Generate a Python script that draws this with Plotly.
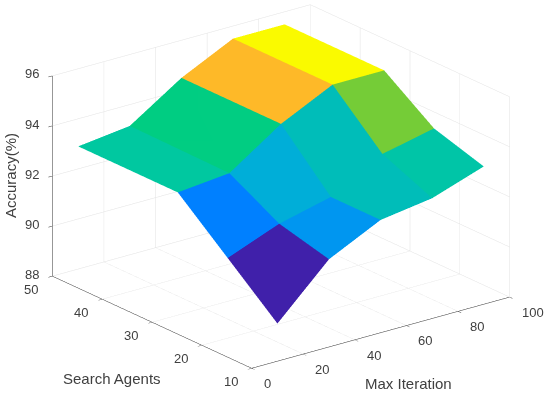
import plotly.graph_objects as go

max_iteration = [10, 30, 50, 70, 90]
search_agents = [10, 20, 30, 50]
accuracy = [
    [89.5, 91.5, 92.5, 92.8, 93.5],
    [91.2, 92.0, 92.5, 93.65, 94.1],
    [92.9, 93.1, 94.5, 95.5, 95.5],
    [92.9, 93.15, 94.5, 95.5, 95.5],
]
x_ticks = [0, 20, 40, 60, 80, 100]
y_ticks = [10, 20, 30, 40, 50]
z_ticks = [88, 90, 92, 94, 96]
color_stops = [
    (89.5, "#4020aa"), (91.2, "#0080ff"), (91.5, "#0096f0"), (92.0, "#00aed8"),
    (92.5, "#00bdb8"), (92.9, "#00c8a0"), (93.1, "#00cd82"), (93.65, "#73cd37"),
    (94.5, "#ffb928"), (95.5, "#fafa00"),
]
lo, hi = color_stops[0][0], color_stops[-1][0]
colorscale = [[(v - lo) / (hi - lo), c] for v, c in color_stops]

nx, ny = len(max_iteration), len(search_agents)
vx, vy, vz = [], [], []
for r in range(ny):
    for c in range(nx):
        vx.append(max_iteration[c]); vy.append(search_agents[r]); vz.append(accuracy[r][c])
ti, tj, tk, cell = [], [], [], []
for r in range(ny - 1):
    for c in range(nx - 1):
        a = r * nx + c; b = a + 1; d = a + nx; e = d + 1
        ti += [a, a]; tj += [b, e]; tk += [e, d]
        cell += [accuracy[r][c]] * 2

mesh = go.Mesh3d(x=vx, y=vy, z=vz, i=ti, j=tj, k=tk, intensity=cell, intensitymode="cell",
                 colorscale=colorscale, cmin=lo, cmax=hi, showscale=False, flatshading=True,
                 lighting=dict(ambient=1, diffuse=0, specular=0, roughness=1, fresnel=0),
                 hoverinfo="skip")
fig = go.Figure(mesh)
ink = "#404040"
tick_font = dict(family="Liberation Sans", size=13, color=ink)
title_font = dict(family="Liberation Sans", size=15, color=ink)


def axis(vals, rng):
    return dict(range=rng, tickvals=vals, showticklabels=False, title=dict(text=""),
                showgrid=True, gridcolor="#e2e2e2", gridwidth=1, showbackground=False,
                showline=True, linecolor="#303030", linewidth=1, ticks="outside", ticklen=5,
                tickcolor="#303030", zeroline=False, showspikes=False)


def label(x, y, z, text, anchor, dx, dy):
    return dict(x=x, y=y, z=z, text=str(text), showarrow=False, font=tick_font,
                xanchor=anchor, yanchor="middle", xshift=dx, yshift=dy)


tick_labels = (
    [label(v, 10, 88, v, "left", 10, -15) for v in x_ticks]
    + [label(0, v, 88, v, "right", -12, -13) for v in y_ticks]
    + [label(0, 50, v, v, "right", -11, 2) for v in z_ticks]
)

fig.update_layout(
    width=550, height=397, margin=dict(l=0, r=0, t=0, b=0), paper_bgcolor="white",
    scene=dict(
        domain=dict(x=[0.022, 1], y=[0.06, 1]),
        xaxis=axis(x_ticks, [0, 100]), yaxis=axis(y_ticks, [10, 50]), zaxis=axis(z_ticks, [88, 96]),
        aspectmode="manual", aspectratio=dict(x=1.748, y=1.748, z=1.15),
        camera=dict(projection=dict(type="orthographic"), up=dict(x=0, y=0, z=1),
                    center=dict(x=0, y=0, z=0), eye=dict(x=-0.571 * 1.6, y=-0.739 * 1.6, z=0.357 * 1.6)),
        annotations=tick_labels,
    ),
    annotations=[
        dict(text="Search Agents", x=112 / 550, y=1 - 378 / 397, xref="paper", yref="paper", xanchor="center", yanchor="middle", showarrow=False, font=title_font),
        dict(text="Max Iteration", x=408 / 550, y=1 - 383 / 397, xref="paper", yref="paper", xanchor="center", yanchor="middle", showarrow=False, font=title_font),
        dict(text="Accuracy(%)", x=10 / 550, y=1 - 176 / 397, xref="paper", yref="paper", xanchor="center", yanchor="middle", showarrow=False, textangle=-90, font=title_font),
    ],
)
fig.write_html("out.html", config=dict(displayModeBar=False),
               post_script="document.body.style.margin='0';document.body.style.overflow='hidden';")
